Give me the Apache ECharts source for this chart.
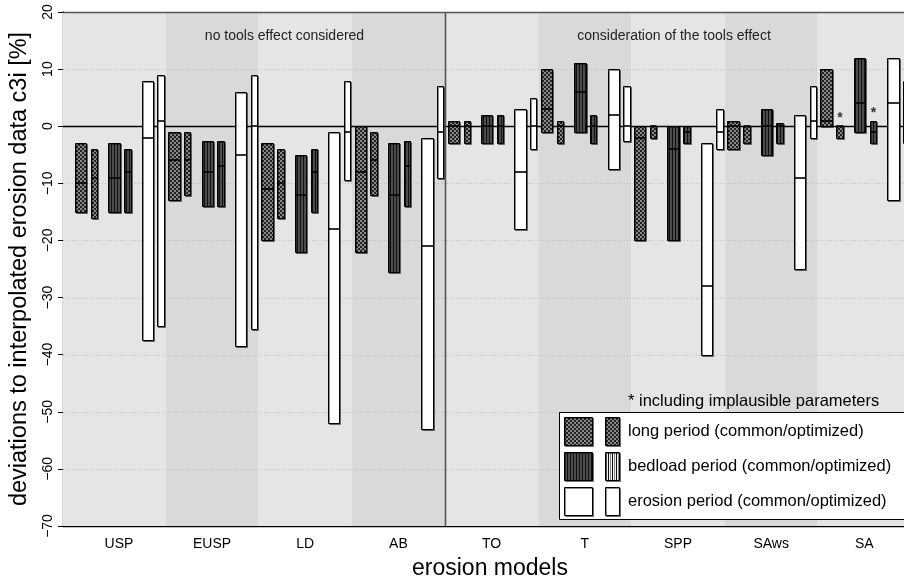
<!DOCTYPE html>
<html><head><meta charset="utf-8">
<script src="https://cdn.jsdelivr.net/npm/echarts@6/dist/echarts.min.js"></script>
<style>html,body{margin:0;padding:0;overflow:hidden;background:#fff}#c{width:930px;height:580px}</style>
</head><body><div id="c"></div>
<script>
// ---------- data ----------
const categories = ['USP','EUSP','LD','AB','TO','T','SPP','SAws','SA'];
const yTicks = [-70,-60,-50,-40,-30,-20,-10,0,10,20];
// each entry: [min, max, median]
const longCommon       = [[-15,-3,-10],[-13,-1,-6],[-20,-3,-11],[-22,0,-8],[-3,1,0],[-1,10,3],[-20,0,-2],[-4,1,0],[0,10,1]];
const longOptimized    = [[-16,-4,-9],[-12,-1,-6],[-16,-4,-10],[-12,-1,-6],[-3,1,0],[-3,1,0],[-2,0,0],[-3,0,0],[-2,0,0]];
const bedloadCommon    = [[-15,-3,-9],[-14,-2.5,-8],[-22,-5,-12],[-25.5,-3,-12],[-3,2,0],[-1,11,6],[-20,0,-4],[-5,3,0],[-1,12,4]];
const bedloadOptimized = [[-15,-4,-8],[-14,-2.5,-7],[-15,-4,-8],[-14,-2.5,-7],[-3,2,0],[-3,2,0],[-3,0,-1],[-3,0.5,0],[-3,1,-1]];
const erosionCommon    = [[-37.5,8,-2],[-38.5,6,-5],[-52,-1,-18],[-53,-2,-21],[-18,3,-8],[-7.5,10,2],[-40,-3,-28],[-25,2,-9],[-13,12,4]];
const erosionOptimized = [[-35,9,1],[-35.5,9,0],[-9.5,8,-1],[-9,7,-1],[-4,5,0],[-2.5,7,0],[-4,3,-1],[-2,7,1],[-3,8,0]];
// models whose optimized run includes implausible parameters
const implausibleLong    = ['SA'];
const implausibleBedload = ['SA'];
const implausibleErosion = ['SA'];
const groupLabels = ['no tools effect considered','consideration of the tools effect'];
const legendLabels = ['long period (common/optimized)','bedload period (common/optimized)','erosion period (common/optimized)'];
const legendNote = '* including implausible parameters';

// ---------- patterns ----------
function makePattern(w, h, draw) {
  const c = document.createElement('canvas'); c.width = w; c.height = h;
  draw(c.getContext('2d'));
  return { image: c, repeat: 'repeat' };
}
const checker = makePattern(4, 4, ctx => {
  ctx.fillStyle = '#222'; ctx.fillRect(0,0,4,4);
  ctx.fillStyle = '#888'; ctx.fillRect(0,0,2,2); ctx.fillRect(2,2,2,2);
});
const stripesDark = makePattern(3, 1, ctx => {
  ctx.fillStyle = '#4c4c4c'; ctx.fillRect(0,0,3,1);
  ctx.fillStyle = '#111'; ctx.fillRect(0,0,1,1);
});
const stripesLight = makePattern(4, 1, ctx => {
  ctx.fillStyle = '#eee'; ctx.fillRect(0,0,4,1);
  ctx.fillStyle = '#111'; ctx.fillRect(0,0,1,1);
  ctx.fillStyle = '#888'; ctx.fillRect(2,0,1,1);
});

const FONT = 'Liberation Sans';
const shadow = { shadowColor: 'rgba(0,0,0,0.45)', shadowOffsetX: 1, shadowOffsetY: 1, shadowBlur: 0 };

function barSeries(name, data, offset, width, fill, flags) {
  return {
    type: 'custom', name, z: 5,
    data: data.map((d, i) => [i, d[0], d[1], d[2], flags.includes(categories[i]) ? 1 : 0]),
    encode: { x: 0, y: [1, 2] },
    renderItem: (params, api) => {
      const i = api.value(0);
      const lo = api.coord([i + offset - width / 2, api.value(1)]);
      const hi = api.coord([i + offset + width / 2, api.value(2)]);
      const med = api.coord([i + offset, api.value(3)]);
      const x0 = Math.round(lo[0]) + 0.5, x1 = Math.round(hi[0]) + 0.5;
      const yT = Math.round(hi[1]) + 0.5, yB = Math.round(lo[1]) + 0.5;
      const ym = Math.round(med[1]);
      const children = [
        { type: 'rect', shape: { x: x0, y: yT, width: x1 - x0, height: yB - yT },
          style: Object.assign({ fill, stroke: '#000', lineWidth: 1 }, shadow) },
        { type: 'line', shape: { x1: x0, y1: ym, x2: x1, y2: ym }, style: { stroke: '#000', lineWidth: 1.6 } }
      ];
      if (api.value(4)) children.push({ type: 'text', style: { text: '*', x: (x0 + x1) / 2, y: yT - 1,
        align: 'center', verticalAlign: 'bottom', fontSize: 14, fontWeight: 'bold', fontFamily: FONT, fill: '#333' } });
      return { type: 'group', children };
    }
  };
}

const bandSeries = {
  type: 'custom', z: 1, silent: true,
  data: categories.map((c, i) => [i]),
  encode: { x: 0 },
  renderItem: (params, api) => {
    const i = api.value(0);
    const cs = params.coordSys;
    let xa = api.coord([i - 0.5, 0])[0], xb = api.coord([i + 0.5, 0])[0];
    if (i === 0) xa = cs.x;
    if (i === categories.length - 1) xb = cs.x + cs.width;
    return { type: 'rect', shape: { x: xa, y: cs.y, width: xb - xa, height: cs.height },
      style: { fill: i % 2 === 0 ? '#e5e5e5' : '#d9d9d9' } };
  }
};

const frameSeries = {
  type: 'custom', z: 2, silent: true,
  data: [[0]],
  encode: { x: 0 },
  renderItem: (params, api) => {
    const cs = params.coordSys;
    const children = [];
    yTicks.forEach(t => {
      if (t === 0 || t === 20 || t === -70) return;
      const y = Math.round(api.coord([0, t])[1]) + 0.5;
      children.push({ type: 'line', shape: { x1: cs.x, y1: y, x2: cs.x + cs.width, y2: y },
        style: { stroke: '#bcbcbc', lineWidth: 1, lineDash: [1, 2] } });
    });
    const y0 = Math.round(api.coord([0, 0])[1]) + 0.5;
    children.push({ type: 'line', shape: { x1: cs.x, y1: y0, x2: cs.x + cs.width, y2: y0 }, style: { stroke: '#000', lineWidth: 1.3 } });
    const xs = Math.round(api.coord([3.5, 0])[0]) + 0.5;
    children.push({ type: 'line', shape: { x1: xs, y1: cs.y, x2: xs, y2: cs.y + cs.height }, style: { stroke: '#555', lineWidth: 1.6 } });
    const yt = Math.round(cs.y) + 0.5;
    children.push({ type: 'line', shape: { x1: cs.x, y1: yt, x2: cs.x + cs.width, y2: yt }, style: { stroke: '#555', lineWidth: 1.3 } });
    return { type: 'group', children };
  }
};

const W = 0.122, N = 0.068;
const series = [
  bandSeries, frameSeries,
  barSeries('long common', longCommon, -0.41, W, checker, []),
  barSeries('long optimized', longOptimized, -0.266, N, checker, implausibleLong),
  barSeries('bedload common', bedloadCommon, -0.052, W, stripesDark, []),
  barSeries('bedload optimized', bedloadOptimized, 0.091, N, stripesDark, implausibleBedload),
  barSeries('erosion common', erosionCommon, 0.306, W, '#fff', []),
  barSeries('erosion optimized', erosionOptimized, 0.447, N, '#fff', implausibleErosion)
];

// legend drawn as graphic
const legendEls = [
  { type: 'rect', z: 100, shape: { x: 559.5, y: 412.5, width: 358, height: 107 }, style: { fill: '#fff', stroke: '#000', lineWidth: 1 } },
  { type: 'text', z: 101, style: { text: legendNote, x: 628, y: 401, verticalAlign: 'middle', fontSize: 16.5, fontFamily: FONT, fill: '#000' } }
];
const legendFills = [[checker, checker], [stripesDark, stripesLight], ['#fff', '#fff']];
legendLabels.forEach((lab, r) => {
  const top = 417 + r * 35;
  legendEls.push({ type: 'rect', z: 101, shape: { x: 564.5, y: top + 0.5, width: 28, height: 28 },
    style: Object.assign({ fill: legendFills[r][0], stroke: '#000', lineWidth: 1 }, shadow) });
  legendEls.push({ type: 'rect', z: 101, shape: { x: 605.5, y: top + 0.5, width: 14, height: 28 },
    style: Object.assign({ fill: legendFills[r][1], stroke: '#000', lineWidth: 1 }, shadow) });
  legendEls.push({ type: 'text', z: 101, style: { text: lab, x: 628, y: top + 14, verticalAlign: 'middle',
    fontSize: 16.5, fontFamily: FONT, fill: '#000' } });
});
legendEls.push({ type: 'text', z: 101, style: { text: groupLabels[0], x: 284.5, y: 36, align: 'center', verticalAlign: 'middle', fontSize: 14, fontFamily: FONT, fill: '#222' } });
legendEls.push({ type: 'text', z: 101, style: { text: groupLabels[1], x: 674, y: 36, align: 'center', verticalAlign: 'middle', fontSize: 14, fontFamily: FONT, fill: '#222' } });

const chart = echarts.init(document.getElementById('c'), null, { renderer: 'canvas' });
chart.setOption({
  animation: false,
  backgroundColor: '#fff',
  textStyle: { fontFamily: FONT },
  grid: { left: 63, right: 13, top: 12, bottom: 54, containLabel: false, outerBoundsMode: 'none' },
  xAxis: {
    type: 'value', min: -0.6, max: 8.565,
    axisLine: { show: true, onZero: false, lineStyle: { color: '#000', width: 1.3 } },
    axisTick: { show: false }, splitLine: { show: false },
    axisLabel: { customValues: categories.map((c, i) => i), formatter: v => categories[Math.round(v)] || '',
      fontSize: 14, margin: 11, color: '#000', fontFamily: FONT },
    name: 'erosion models', nameLocation: 'middle', nameGap: 31,
    nameTextStyle: { fontSize: 23, color: '#000', fontFamily: FONT }
  },
  yAxis: {
    type: 'value', min: -70, max: 20, interval: 10,
    axisLine: { show: true, onZero: false, lineStyle: { color: '#000', width: 1.3 } },
    axisTick: { show: true, length: 5, lineStyle: { color: '#000' } },
    splitLine: { show: false },
    axisLabel: { rotate: 90, margin: 8, fontSize: 14, color: '#000', fontFamily: FONT,
      formatter: v => (v < 0 ? '\u2212' + Math.abs(v) : String(v)) },
    name: 'deviations to interpolated erosion data c3i [%]', nameLocation: 'middle', nameGap: 31,
    nameTextStyle: { fontSize: 23.5, color: '#000', fontFamily: FONT }
  },
  graphic: { elements: legendEls },
  series
});
</script></body></html>
